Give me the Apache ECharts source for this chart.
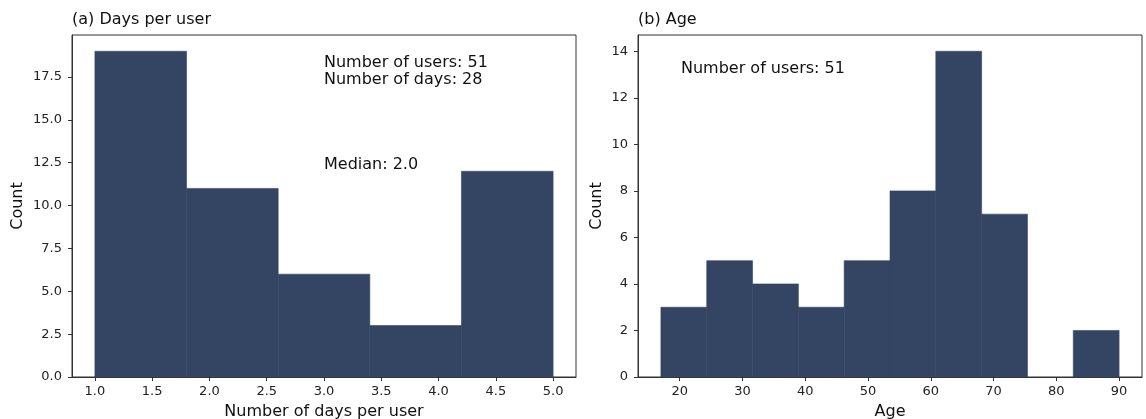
<!DOCTYPE html>
<html>
<head>
<meta charset="utf-8">
<script src="https://cdn.jsdelivr.net/npm/echarts@6/dist/echarts.min.js"></script>
<style>
html,body{margin:0;padding:0;background:#fff;}
#chart{width:1146px;height:419px;}
</style>
</head>
<body>
<div id="chart"></div>
<script>
// ---- data ----
const daysEdges = [1.0, 1.8, 2.6, 3.4, 4.2, 5.0];
const daysCounts = [19, 11, 6, 3, 12];
const ageEdges = [17, 24.3, 31.6, 38.9, 46.2, 53.5, 60.8, 68.1, 75.4, 82.7, 90];
const ageCounts = [3, 5, 4, 3, 5, 8, 14, 7, 0, 2];
const daysXTicks = [1.0, 1.5, 2.0, 2.5, 3.0, 3.5, 4.0, 4.5, 5.0];
const daysYTicks = [0, 2.5, 5, 7.5, 10, 12.5, 15, 17.5];
const ageXTicks = [20, 30, 40, 50, 60, 70, 80, 90];
const ageYTicks = [0, 2, 4, 6, 8, 10, 12, 14];
const titles = ['(a) Days per user', '(b) Age'];
const daysNotes = ['Number of users: 51', 'Number of days: 28', 'Median: 2.0'];
const ageNotes = ['Number of users: 51'];

const FONT = 'DejaVu Sans';
const BAR = '#344563';
const AX = '#333';

function toBins(edges, counts) {
  return counts.map((c, i) => [edges[i], edges[i + 1], c]);
}
function renderBin(params, api) {
  const x0 = api.value(0), x1 = api.value(1), y = api.value(2);
  if (!y) return null;
  const p0 = api.coord([x0, y]);
  const p1 = api.coord([x1, 0]);
  return {
    type: 'rect',
    shape: { x: p0[0], y: p0[1], width: p1[0] - p0[0], height: p1[1] - p0[1] },
    style: { fill: BAR, stroke: BAR, lineWidth: 0.6 }
  };
}
function xAxis(idx, min, max, ticks, fmt, name) {
  return {
    type: 'value', gridIndex: idx, min: min, max: max,
    name: name, nameLocation: 'middle', nameGap: 27,
    nameTextStyle: { fontFamily: FONT, fontSize: 16, color: '#111' },
    splitLine: { show: false },
    axisLine: { show: true, onZero: false, lineStyle: { color: AX, width: 1 } },
    axisTick: { show: true, length: 4, lineStyle: { color: AX }, customValues: ticks },
    axisLabel: { fontFamily: FONT, fontSize: 13, color: '#222', margin: 8, customValues: ticks, formatter: fmt }
  };
}
function yAxis(idx, min, max, ticks, fmt, gap) {
  return {
    type: 'value', gridIndex: idx, min: min, max: max,
    name: 'Count', nameLocation: 'middle', nameGap: gap,
    nameTextStyle: { fontFamily: FONT, fontSize: 16, color: '#111' },
    splitLine: { show: false },
    axisLine: { show: true, lineStyle: { color: AX, width: 1 } },
    axisTick: { show: true, length: 4, lineStyle: { color: AX }, customValues: ticks },
    axisLabel: { fontFamily: FONT, fontSize: 13, color: '#222', margin: 10, customValues: ticks, formatter: fmt }
  };
}
function txt(x, y, s) {
  return { type: 'text', x: x, y: y, style: { text: s, font: '16px "' + FONT + '"', fill: '#111', verticalAlign: 'middle', align: 'left' } };
}

const chart = echarts.init(document.getElementById('chart'), null, { renderer: 'canvas' });
chart.setOption({
  animation: false,
  backgroundColor: '#fff',
  grid: [
    { left: 72, top: 35, width: 504, height: 342, containLabel: false, outerBoundsMode: 'none', show: true, borderColor: AX, borderWidth: 1, backgroundColor: 'transparent' },
    { left: 638, top: 35, width: 504, height: 342, containLabel: false, outerBoundsMode: 'none', show: true, borderColor: AX, borderWidth: 1, backgroundColor: 'transparent' }
  ],
  xAxis: [
    xAxis(0, 0.8, 5.2, daysXTicks, v => v.toFixed(1), 'Number of days per user'),
    xAxis(1, 13.35, 93.65, ageXTicks, v => String(v), 'Age')
  ],
  yAxis: [
    yAxis(0, 0, 19.95, daysYTicks, v => v.toFixed(1), 46),
    yAxis(1, 0, 14.7, ageYTicks, v => String(v), 33)
  ],
  series: [
    { type: 'custom', xAxisIndex: 0, yAxisIndex: 0, renderItem: renderBin, data: toBins(daysEdges, daysCounts), encode: { x: [0, 1], y: 2 } },
    { type: 'custom', xAxisIndex: 1, yAxisIndex: 1, renderItem: renderBin, data: toBins(ageEdges, ageCounts), encode: { x: [0, 1], y: 2 } }
  ],
  graphic: [
    txt(72, 20, titles[0]),
    txt(638, 20, titles[1]),
    txt(324, 63, daysNotes[0]),
    txt(324, 80, daysNotes[1]),
    txt(324, 165, daysNotes[2]),
    txt(681, 69, ageNotes[0])
  ]
});
</script>
</body>
</html>
